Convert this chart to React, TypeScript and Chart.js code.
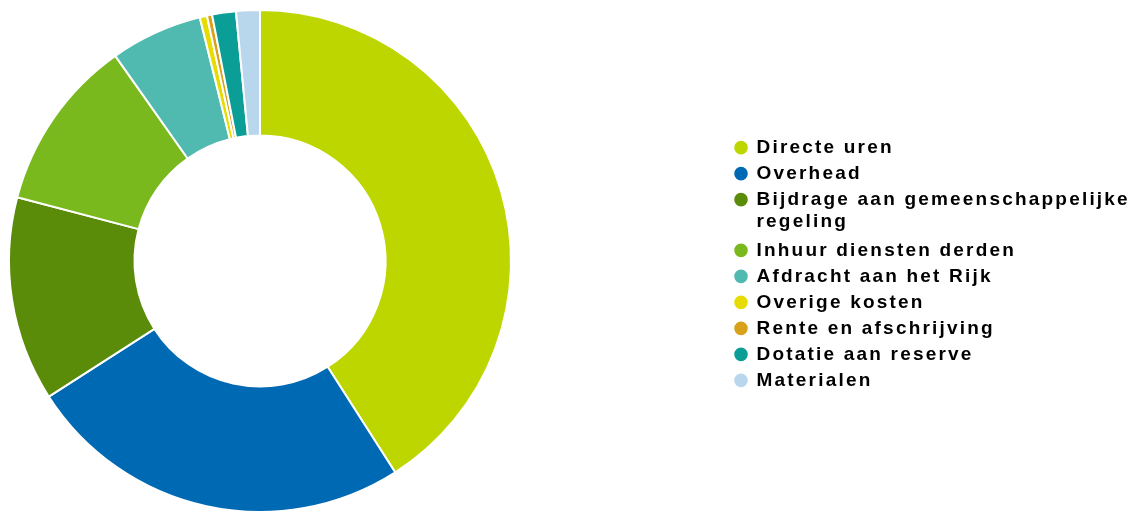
import React, { useEffect, useRef } from "react";
import { Chart, registerables } from "chart.js";

Chart.register(...registerables);

const categories: (string | string[])[] = [
  "Directe uren",
  "Overhead",
  ["Bijdrage aan gemeenschappelijke", "regeling"],
  "Inhuur diensten derden",
  "Afdracht aan het Rijk",
  "Overige kosten",
  "Rente en afschrijving",
  "Dotatie aan reserve",
  "Materialen",
];

const values: number[] = [40.94, 24.97, 13.18, 11.13, 5.92, 0.47, 0.33, 1.53, 1.53];

const colors: string[] = [
  "#BDD600",
  "#0069B4",
  "#5A8C0A",
  "#7AB91E",
  "#50B9B0",
  "#E6DC00",
  "#D9A11A",
  "#0A9E96",
  "#B9D7EC",
];

const LEGEND_LEFT = 728;
const CHART_RIGHT = 512;
const LEGEND_SHIFT_Y = 3;
const LETTER_SPACING = "2.2px";

const layoutPlugin = {
  id: "layoutTweaks",
  beforeLayout(chart: any) {
    chart.ctx.letterSpacing = LETTER_SPACING;
    const lg = chart.legend;
    if (lg && !lg.__patched) {
      const orig = lg.fit;
      lg.fit = function (this: any) {
        orig.call(this);
        this.width = chart.width - CHART_RIGHT;
      };
      lg.__patched = true;
    }
  },
  afterLayout(chart: any) {
    const lg = chart.legend;
    if (lg) {
      lg.left = LEGEND_LEFT;
      lg.right = chart.width;
      lg.width = chart.width - LEGEND_LEFT;
      lg.top += LEGEND_SHIFT_Y;
      lg.bottom += LEGEND_SHIFT_Y;
    }
  },
  beforeDraw(chart: any) {
    chart.ctx.letterSpacing = LETTER_SPACING;
  },
};

export default function App() {
  const ref = useRef<HTMLCanvasElement | null>(null);

  useEffect(() => {
    document.body.style.margin = "0";
    document.body.style.overflow = "hidden";
    if (!ref.current) return;
    const chart = new Chart(ref.current, {
      type: "doughnut",
      data: {
        labels: categories as any,
        datasets: [
          {
            data: values,
            backgroundColor: colors,
            borderColor: "#ffffff",
            borderWidth: 2,
          },
        ],
      },
      options: {
        animation: false,
        responsive: true,
        maintainAspectRatio: false,
        cutout: "50%",
        layout: { padding: { top: 9, bottom: 9, left: 8, right: 0 } },
        plugins: {
          tooltip: { enabled: false },
          legend: {
            position: "right",
            labels: {
              usePointStyle: true,
              pointStyle: "circle",
              boxWidth: 12,
              boxHeight: 11,
              padding: 7,
              color: "#000000",
              font: {
                family: "'Liberation Sans', Arial, sans-serif",
                size: 19,
                weight: "bold",
                lineHeight: 1.15,
              },
            },
          },
        },
      },
      plugins: [layoutPlugin],
    });
    return () => chart.destroy();
  }, []);

  return (
    <div style={{ width: 1133, height: 511, overflow: "hidden", position: "relative" }}>
      <div style={{ width: 1133, height: 522, position: "absolute", left: 0, top: 0 }}>
        <canvas ref={ref} />
      </div>
    </div>
  );
}
